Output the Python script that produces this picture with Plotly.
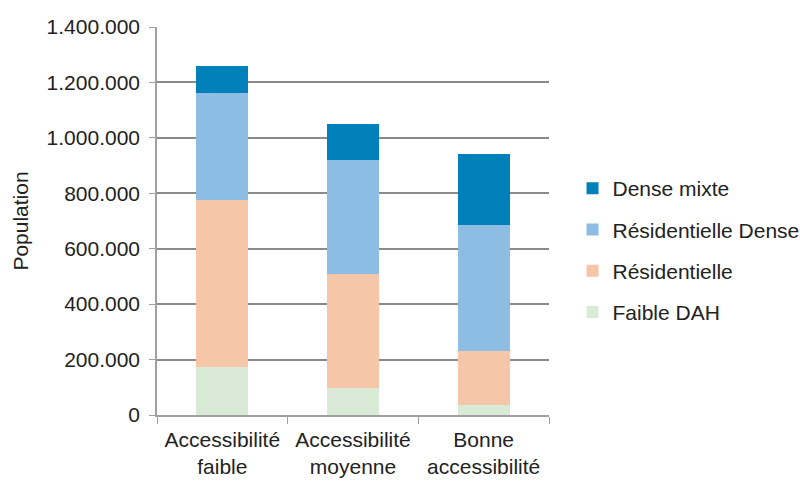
import plotly.graph_objects as go

categories = ["Accessibilité<br>faible", "Accessibilité<br>moyenne", "Bonne<br>accessibilité"]
faible_dah = [175000, 97000, 36000]
residentielle = [600000, 412000, 194000]
residentielle_dense = [386000, 411000, 454000]
dense_mixte = [97000, 130000, 256000]

series = [
    ("Faible DAH", faible_dah, "#D9EAD6", 4),
    ("Résidentielle", residentielle, "#F5C6A7", 3),
    ("Résidentielle Dense", residentielle_dense, "#8DBDE2", 2),
    ("Dense mixte", dense_mixte, "#0080BB", 1),
]

tickvals = [0, 200000, 400000, 600000, 800000, 1000000, 1200000, 1400000]
ticktext = ["0", "200.000", "400.000", "600.000", "800.000", "1.000.000", "1.200.000", "1.400.000"]

fig = go.Figure()
for name, vals, color, rank in series:
    fig.add_trace(go.Bar(
        x=categories, y=vals, name=name, marker_color=color,
        marker_line_width=0, width=0.4, legendgroup=name, legendrank=rank,
    ))

font = "Liberation Sans, Arial, sans-serif"
fs = 21
fig.update_layout(
    barmode="stack",
    width=800, height=481,
    margin=dict(l=157, r=251, t=27, b=66, autoexpand=False),
    paper_bgcolor="white", plot_bgcolor="white",
    font=dict(family=font, size=fs, color="#222222"),
    showlegend=True,
    legend=dict(
        x=1.06, xanchor="left", y=0.424, yanchor="middle",
        traceorder="grouped", tracegroupgap=11,
        font=dict(size=fs, color="#222222"),
    ),
    xaxis=dict(
        tickson="boundaries", ticks="outside", ticklen=7, tickcolor="#a0a0a0",
        showline=True, linecolor="#a0a0a0", linewidth=1.5,
        tickfont=dict(size=fs), showgrid=False, ticklabelstandoff=5,
    ),
    yaxis=dict(
        range=[0, 1400000], tickvals=tickvals, ticktext=ticktext,
        ticks="outside", ticklen=6, tickcolor="#a0a0a0",
        showline=True, linecolor="#a0a0a0", linewidth=1.5,
        gridcolor="#8a8a8a", gridwidth=1.5,
        tickfont=dict(size=fs), ticklabelstandoff=5,
        title=dict(text="Population", font=dict(size=fs), standoff=12),
        zeroline=False,
    ),
)

fig.write_html("out.html")
